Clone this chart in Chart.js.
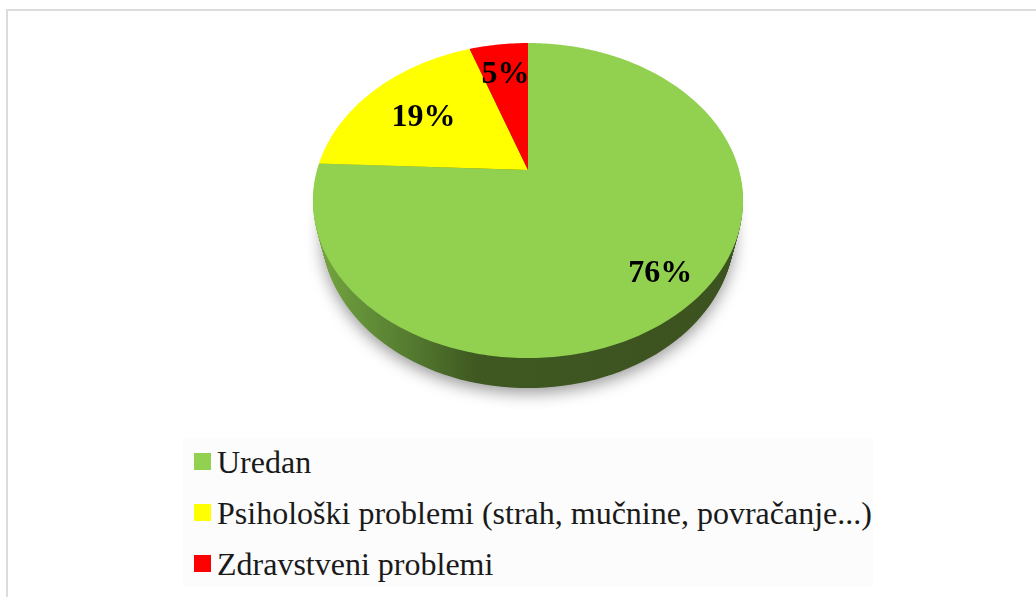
<!DOCTYPE html>
<html>
<head>
<meta charset="utf-8">
<script src="https://cdn.jsdelivr.net/npm/chart.js@4"></script>
<style>
  html, body { margin: 0; padding: 0; background: #fff; overflow: hidden; }
  #wrap { position: relative; width: 1036px; height: 597px; }
  #frame { position: absolute; left: 6px; top: 9px; right: 0; bottom: 0; border-left: 2px solid #dcdcdc; border-top: 2px solid #dcdcdc; }
  canvas { position: absolute; left: 0; top: 0; }
  #legend { position: absolute; left: 183px; top: 438px; width: 690px; height: 149px; background: #fcfcfc; font: 32px "Liberation Serif", serif; color: #1a1a1a; }
  .row { position: absolute; left: 11px; height: 34px; line-height: 34px; white-space: nowrap; }
  .box { position: absolute; left: 0; top: 7px; width: 17px; height: 17px; }
  .txt { position: absolute; left: 23px; top: -1px; }
</style>
</head>
<body>
<div id="wrap">
  <div id="frame"></div>
  <canvas id="pie" width="1036" height="597"></canvas>
  <div id="legend"></div>
</div>
<script>
// data (slice edges put the shares a little off the printed whole numbers)
const categories = ['Uredan', 'Psihološki problemi (strah, mučnine, povračanje...)', 'Zdravstveni problemi'];
const shares = [75.7, 19, 5.3];
const sliceColors = ['#92d050', '#ffff00', '#ff0000'];

// where each percent label sits: out along the slice (0 = apex, 1 = rim) and across it (0.5 = middle)
const labelRadius = [0.82, 0.645, 0.73];
const labelSweep = [0.505, 0.47, 0.5];

// tilted disc, perspective projection of the unit circle
const tilt = { cx: 528, cy: 170, rx: 211, ry: 151.6, k: -0.194, depth: 30, shrink: 0.04 };

function project(u, v) {
  const d = 1 + tilt.k * v;
  return { x: tilt.cx + tilt.rx * u / d, y: tilt.cy + tilt.ry * v / d };
}

// rim outline pushed down by the wall depth, slightly narrower further down
function rimPath(ctx, off) {
  const s = 1 - tilt.shrink * off / tilt.depth;
  ctx.beginPath();
  for (let i = 0; i < 360; i += 2) {
    const a = i * Math.PI / 180;
    const p = project(Math.cos(a), Math.sin(a));
    ctx.lineTo(tilt.cx + (p.x - tilt.cx) * s, p.y + off);
  }
  ctx.closePath();
}

function drawWall(ctx) {
  const grad = ctx.createLinearGradient(313, 0, 743, 0);
  grad.addColorStop(0, '#77a83f');
  grad.addColorStop(0.1, '#66933a');
  grad.addColorStop(0.22, '#557c30');
  grad.addColorStop(0.38, '#3f5821');
  grad.addColorStop(1, '#3c5220');

  ctx.save();
  ctx.shadowColor = 'rgba(0, 0, 0, 0.4)';
  ctx.shadowBlur = 16;
  ctx.shadowOffsetY = 5;
  rimPath(ctx, tilt.depth);
  ctx.fillStyle = grad;
  ctx.fill();
  ctx.restore();

  ctx.fillStyle = grad;
  for (let off = tilt.depth - 1; off > 0; off--) {
    rimPath(ctx, off);
    ctx.fill();
  }
}

function drawSlice(ctx, arc, color) {
  ctx.beginPath();
  const apex = project(0, 0);
  ctx.moveTo(apex.x, apex.y);
  const steps = Math.ceil((arc.endAngle - arc.startAngle) * 60);
  for (let i = 0; i <= steps; i++) {
    const a = arc.startAngle + (arc.endAngle - arc.startAngle) * i / steps;
    const p = project(Math.cos(a), Math.sin(a));
    ctx.lineTo(p.x, p.y);
  }
  ctx.closePath();
  ctx.fillStyle = color;
  ctx.fill();
}

const tiltedPie = {
  id: 'tiltedPie',
  beforeDatasetsDraw(chart) {
    const ctx = chart.ctx;
    const arcs = chart.getDatasetMeta(0).data;
    drawWall(ctx);
    arcs.forEach((arc, i) => drawSlice(ctx, arc, sliceColors[i]));

    // percent labels
    ctx.fillStyle = '#000';
    ctx.font = 'bold 32px "Liberation Serif", serif';
    ctx.textAlign = 'center';
    ctx.textBaseline = 'middle';
    arcs.forEach((arc, i) => {
      const a = arc.startAngle + (arc.endAngle - arc.startAngle) * labelSweep[i];
      const p = project(labelRadius[i] * Math.cos(a), labelRadius[i] * Math.sin(a));
      ctx.fillText(Math.round(shares[i]) + '%', p.x, p.y);
    });
    return false;
  }
};

new Chart(document.getElementById('pie'), {
  type: 'pie',
  data: {
    labels: categories,
    datasets: [{ data: shares, backgroundColor: sliceColors, borderWidth: 0 }]
  },
  options: {
    responsive: false,
    animation: false,
    events: [],
    plugins: {
      legend: { display: false },
      tooltip: { enabled: false }
    }
  },
  plugins: [tiltedPie]
});

// legend rows
const rowTops = [8, 59, 110];
const legendEl = document.getElementById('legend');
categories.forEach((name, i) => {
  const row = document.createElement('div');
  row.className = 'row';
  row.style.top = rowTops[i] + 'px';
  row.innerHTML = `<span class="box" style="background:${sliceColors[i]}"></span><span class="txt">${name}</span>`;
  legendEl.appendChild(row);
});
</script>
</body>
</html>
